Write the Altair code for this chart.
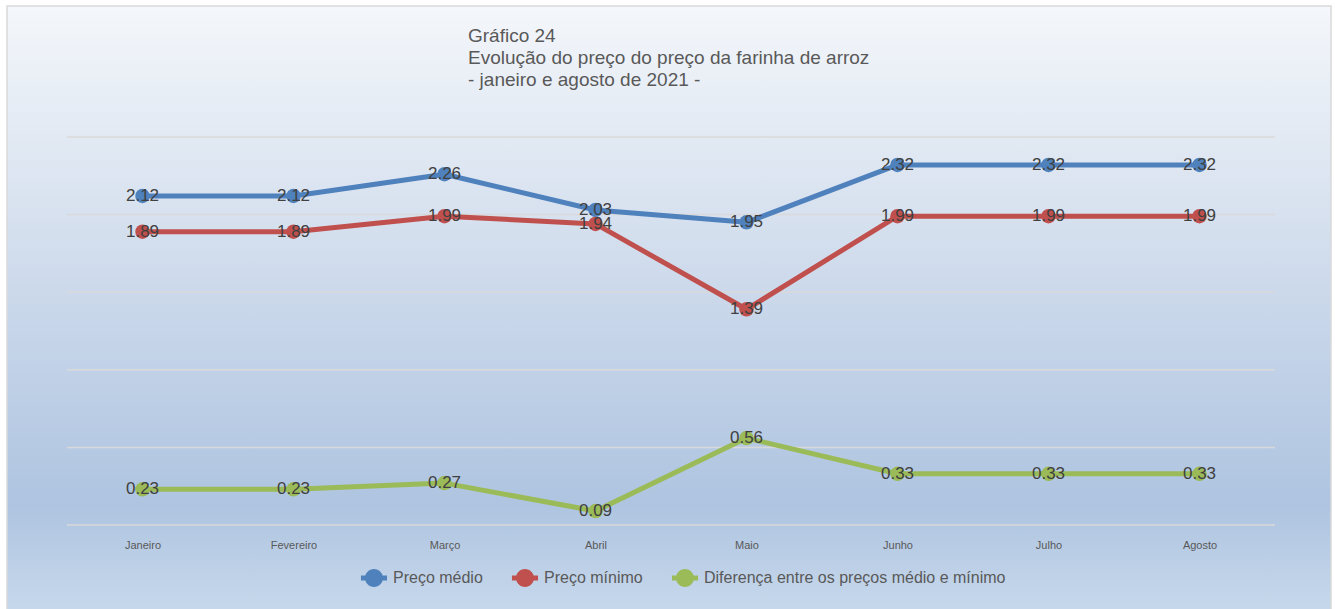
import altair as alt
import pandas as pd

# Monthly rice-flour prices, 2021
months = ["Janeiro", "Fevereiro", "Março", "Abril", "Maio", "Junho", "Julho", "Agosto"]
preco_medio = [2.12, 2.12, 2.26, 2.03, 1.95, 2.32, 2.32, 2.32]
preco_minimo = [1.89, 1.89, 1.99, 1.94, 1.39, 1.99, 1.99, 1.99]
diferenca = [0.23, 0.23, 0.27, 0.09, 0.56, 0.33, 0.33, 0.33]

series_names = [
    "Preço médio",
    "Preço mínimo",
    "Diferença entre os preços médio e mínimo",
]
series_colors = ["#4f81bd", "#c0504d", "#9bbb59"]
grid_values = [0, 0.5, 1.0, 1.5, 2.0, 2.5]

title_lines = [
    "Gráfico 24",
    "Evolução do preço do preço da farinha de arroz",
    "- janeiro e agosto de 2021 -",
]

FONT = "Liberation Sans"
W, H = 1208, 388

rows = []
for name, vals in zip(series_names, [preco_medio, preco_minimo, diferenca]):
    for m, v in zip(months, vals):
        rows.append({"mes": m, "serie": name, "valor": v})
df = pd.DataFrame(rows)

x_enc = alt.X(
    "mes:N",
    sort=months,
    scale=alt.Scale(type="point", padding=0.5),
    axis=alt.Axis(
        title=None, labelAngle=0, ticks=False, domain=False, grid=False,
        labelFont=FONT, labelFontSize=11, labelColor="#595959", labelPadding=14,
        zindex=2,
    ),
)
y_scale = alt.Scale(domain=[0, 2.5], nice=False, zero=True)
y_enc = alt.Y("valor:Q", scale=y_scale, axis=None)
color_scale = alt.Scale(domain=series_names, range=series_colors)

# Legend glyph: a short line segment through a filled circle
legend_symbol = (
    "M-1.45,-0.28H1.45V0.28H-1.45Z"
    "M-1,0A1,1 0 1,1 1,0A1,1 0 1,1 -1,0Z"
)
legend = alt.Legend(
    title=None, orient="none", direction="horizontal",
    legendX=298, legendY=432,
    symbolType=legend_symbol, symbolSize=324, symbolStrokeWidth=0,
    symbolOpacity=1,
    labelFont=FONT, labelFontSize=16, labelColor="#595959", labelLimit=0,
    labelOffset=10, columnPadding=28, padding=0,
)
color_enc = alt.Color("serie:N", scale=color_scale, legend=legend)

# Gradient panel behind everything, reaching past the plot area
background = alt.Chart(pd.DataFrame({"a": [0]})).mark_rect(
    fill=alt.LinearGradient(
        gradient="linear", x1=0, y1=0, x2=0, y2=1,
        stops=[
            alt.GradientStop(offset=0, color="#f4f7fb"),
            alt.GradientStop(offset=0.25, color="#dfe7f2"),
            alt.GradientStop(offset=0.5, color="#c9d7ea"),
            alt.GradientStop(offset=0.82, color="#aec4e0"),
            alt.GradientStop(offset=1, color="#c8d9ec"),
        ],
    ),
    stroke="#d9d9d9",
    strokeWidth=1.5,
).encode(
    x=alt.value(-60), x2=alt.value(W + 56),
    y=alt.value(-131), y2=alt.value(H + 90),
)

grid = alt.Chart(pd.DataFrame({"valor": grid_values})).mark_rule(
    color="#d9d9d9", strokeWidth=1.5
).encode(y=alt.Y("valor:Q", scale=y_scale, axis=None))

lines = alt.Chart(df).mark_line(strokeWidth=5, strokeJoin="round").encode(
    x=x_enc, y=y_enc, color=color_enc, detail="serie:N",
)

points = alt.Chart(df).mark_point(filled=True, size=210, opacity=1, shape="circle").encode(
    x=x_enc, y=y_enc, color=color_enc,
)

labels = alt.Chart(df).mark_text(
    font=FONT, fontSize=17, color="#404040", align="center", baseline="middle"
).encode(x=x_enc, y=y_enc, text=alt.Text("valor:Q", format=".2f"))

title = alt.Chart(pd.DataFrame({"t": ["\n".join(title_lines)]})).mark_text(
    font=FONT, fontSize=19, color="#595959", align="left", baseline="top",
    lineBreak="\n", lineHeight=22,
).encode(x=alt.value(401), y=alt.value(-110), text="t:N")

chart = alt.layer(background, grid, lines, points, labels, title).properties(
    width=W, height=H,
    autosize=alt.AutoSizeParams(type="none"),
    padding={"left": 67, "top": 137, "right": 60, "bottom": 84},
    background="white",
).configure_view(stroke=None)

chart.save("out.html", embed_options={"renderer": "svg", "actions": False})
